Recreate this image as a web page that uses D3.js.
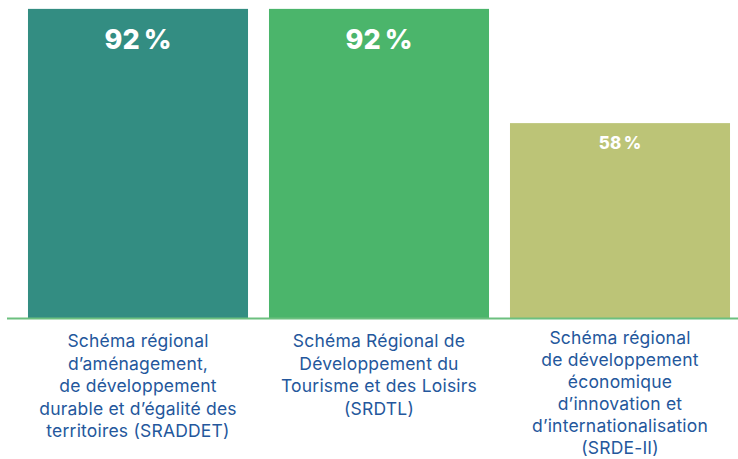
<!DOCTYPE html>
<html>
<head>
<meta charset="utf-8">
<script src="https://cdn.jsdelivr.net/npm/d3@7"></script>
<style>
  body { margin: 0; background: #fff; }
  svg { display: block; }
</style>
</head>
<body>
<div id="chart"></div>
<script>
// data
var categories = ["SRADDET", "SRDTL", "SRDE-II"];
var values = [92, 92, 58];
var valueLabels = ["92\u2009%", "92\u2009%", "58\u2009%"];
var categoryLines = [
  ["Schéma régional", "d’aménagement,", "de développement", "durable et d’égalité des", "territoires (SRADDET)"],
  ["Schéma Régional de", "Développement du", "Tourisme et des Loisirs", "(SRDTL)"],
  ["Schéma régional", "de développement", "économique", "d’innovation et", "d’internationalisation", "(SRDE-II)"]
];
var colors = ["#338d82", "#4bb56b", "#bcc477"];

var width = 738, height = 459;
var baseY = 318;

var svg = d3.select("#chart")
  .append("svg")
    .attr("width", width)
    .attr("height", height);

var x = d3.scaleBand()
  .domain(categories)
  .range([17.5, 740.5])
  .paddingInner(0.087)
  .paddingOuter(0.0435);

var y = d3.scaleLinear()
  .domain([0, 100])
  .range([baseY, baseY - 336]);

// bars
svg.selectAll(".bar")
  .data(values)
  .join("rect")
    .attr("class", "bar")
    .attr("x", (d, i) => x(categories[i]))
    .attr("y", d => y(d))
    .attr("width", x.bandwidth())
    .attr("height", d => y(0) - y(d))
    .attr("fill", (d, i) => colors[i]);

// value labels
svg.selectAll(".val")
  .data(values)
  .join("text")
    .attr("class", "val")
    .attr("x", (d, i) => x(categories[i]) + x.bandwidth() / 2)
    .attr("y", d => d > 80 ? y(d) + 40 : y(d) + 26)
    .attr("text-anchor", "middle")
    .attr("fill", "#fff")
    .style("font-family", "Inter, 'Noto Sans', sans-serif")
    .style("font-weight", 800)
    .style("font-size", d => d > 80 ? "27px" : "17px")
    .text((d, i) => valueLabels[i]);

// baseline
svg.append("line")
  .attr("x1", 7)
  .attr("x2", width)
  .attr("y1", baseY + 0.5)
  .attr("y2", baseY + 0.5)
  .attr("stroke", "#6cc07f")
  .attr("stroke-width", 2);

// category labels
categories.forEach(function(c, i) {
  var long = categoryLines[i].length > 5;
  var t = svg.append("text")
    .attr("x", x(c) + x.bandwidth() / 2)
    .attr("y", long ? baseY + 26 : baseY + 29)
    .attr("text-anchor", "middle")
    .attr("fill", "#24579c")
    .style("font-family", "Inter, 'Noto Sans', sans-serif")
    .style("font-size", "17.5px")
    .style("letter-spacing", "0.2px");
  t.selectAll("tspan")
    .data(categoryLines[i])
    .join("tspan")
      .attr("x", x(c) + x.bandwidth() / 2)
      .attr("dy", (d, j) => j === 0 ? 0 : (long ? 22 : 22.5))
      .text(d => d);
});
</script>
</body>
</html>
